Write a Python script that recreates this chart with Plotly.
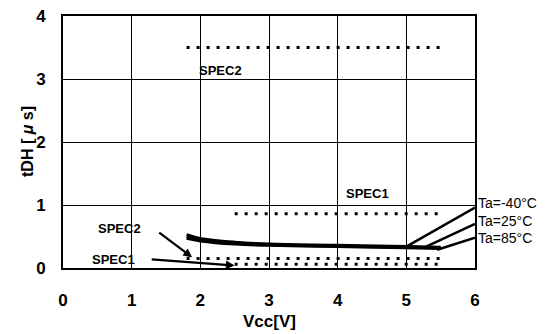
import plotly.graph_objects as go

# ---- data ----
vcc = [1.8, 2.0, 2.5, 3.0, 4.0, 5.0, 5.5]
tdh_m40 = [0.53, 0.47, 0.41, 0.38, 0.36, 0.34, 0.33]
tdh_25 = [0.50, 0.45, 0.40, 0.37, 0.35, 0.33, 0.32]
tdh_85 = [0.47, 0.43, 0.38, 0.36, 0.34, 0.32, 0.31]
curve_names = ["Ta=-40°C", "Ta=25°C", "Ta=85°C"]

spec2_x = [1.8, 5.5]
spec2_max = [3.5, 3.5]
spec2_min = [0.15, 0.15]
spec1_x = [2.5, 5.5]
spec1_max = [0.86, 0.86]
spec1_min = [0.06, 0.06]

x_ticks = [0, 1, 2, 3, 4, 5, 6]
y_ticks = [0, 1, 2, 3, 4]

FONT = "Liberation Sans"
fig = go.Figure()

dot = dict(color="black", width=3, dash="3px,7px")
for xs, ys in [(spec2_x, spec2_max), (spec2_x, spec2_min), (spec1_x, spec1_max), (spec1_x, spec1_min)]:
    fig.add_trace(go.Scatter(x=xs, y=ys, mode="lines", line=dot, showlegend=False, hoverinfo="skip"))

for ys, nm in zip([tdh_m40, tdh_25, tdh_85], curve_names):
    fig.add_trace(go.Scatter(x=vcc, y=ys, mode="lines", name=nm,
                             line=dict(color="black", width=3, shape="spline"), showlegend=False))

# leader lines for temperature labels
leader_targets = [(5.0, tdh_m40[5]), (5.25, tdh_25[5] - 0.01), (5.45, tdh_85[6] - 0.02)]
leader_tails = [0.96, 0.70, 0.48]
label_y = [1.03, 0.75, 0.47]
for (tx, ty), tail, ly, nm in zip(leader_targets, leader_tails, label_y, curve_names):
    fig.add_shape(type="line", x0=tx, y0=ty, x1=6, y1=tail, xref="x", yref="y",
                  line=dict(color="black", width=2.5))
    fig.add_annotation(x=6, y=ly, xref="x", yref="y", text=nm, showarrow=False,
                       xanchor="left", yanchor="middle", xshift=1,
                       font=dict(family=FONT, size=14, color="black"))

# spec labels
lab = dict(family=FONT, size=13, color="black", weight="bold")
fig.add_annotation(x=2.29, y=3.13, text="SPEC2", showarrow=False, font=lab)
fig.add_annotation(x=4.43, y=1.18, text="SPEC1", showarrow=False, font=lab)
fig.add_annotation(x=1.88, y=0.17, ax=1.38, ay=0.58, axref="x", ayref="y",
                   text="", showarrow=True, arrowhead=2, arrowsize=0.8, arrowwidth=2.2, arrowcolor="black")
fig.add_annotation(x=0.82, y=0.62, text="SPEC2", showarrow=False, font=lab)
fig.add_annotation(x=2.5, y=0.04, ax=1.27, ay=0.14, axref="x", ayref="y",
                   text="", showarrow=True, arrowhead=2, arrowsize=0.8, arrowwidth=2.2, arrowcolor="black")
fig.add_annotation(x=0.73, y=0.14, text="SPEC1", showarrow=False, font=lab)

# axis titles
tfont = dict(family=FONT, size=17, color="black", weight="bold")
fig.add_annotation(x=0.5, y=0, xref="paper", yref="paper", text="Vcc[V]", showarrow=False,
                   yanchor="middle", yshift=-53, font=tfont)
fig.add_annotation(x=0, y=0.5, xref="paper", yref="paper", text="tDH [ <i>μ</i> s]", showarrow=False,
                   textangle=-90, xanchor="center", xshift=-36, yshift=0,
                   font=dict(family=FONT, size=16, color="black", weight="bold"))

tick = dict(family=FONT, size=17, color="black", weight="bold")
fig.update_xaxes(range=[0, 6], tickvals=x_ticks, ticktext=[str(v) for v in x_ticks],
                 showgrid=True, gridcolor="black", gridwidth=1, zeroline=False,
                 showline=True, linecolor="black", linewidth=2, mirror=True,
                 ticks="", ticklen=0, automargin=False, ticklabelstandoff=16,
                 ticklabeloverflow="allow", tickfont=tick)
fig.update_yaxes(range=[0, 4], tickvals=y_ticks, ticktext=[str(v) for v in y_ticks],
                 showgrid=True, gridcolor="black", gridwidth=1, zeroline=False,
                 showline=True, linecolor="black", linewidth=2, mirror=True,
                 ticks="", ticklen=0, automargin=False, ticklabelstandoff=12,
                 ticklabeloverflow="allow", tickfont=tick)

# page has an 8px body margin: shrink figure so the plot lands where the reference has it
fig.update_layout(width=547, height=326, margin=dict(l=55, r=80, t=8, b=66),
                  paper_bgcolor="white", plot_bgcolor="white", showlegend=False)

fig.write_html("out.html")
